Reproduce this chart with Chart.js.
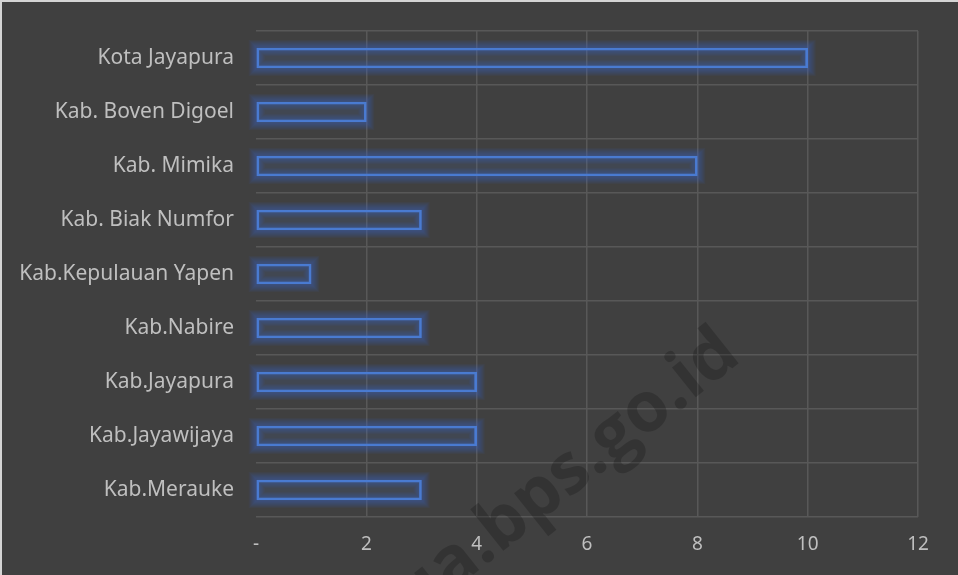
<!DOCTYPE html>
<html>
<head>
<meta charset="utf-8">
<style>
  html, body { margin: 0; padding: 0; background: #404040; }
  #wrap { width: 958px; height: 575px; position: relative; }
</style>
<script src="https://cdn.jsdelivr.net/npm/chart.js@4/dist/chart.umd.min.js"></script>
</head>
<body>
<div id="wrap"><canvas id="chart" width="958" height="575"></canvas></div>
<script>
const categories = [
  'Kota Jayapura',
  'Kab. Boven Digoel',
  'Kab. Mimika',
  'Kab. Biak Numfor',
  'Kab.Kepulauan Yapen',
  'Kab.Nabire',
  'Kab.Jayapura',
  'Kab.Jayawijaya',
  'Kab.Merauke',
];
const values = [10, 2, 8, 3, 1, 3, 4, 4, 3];
const xTicks = [0, 2, 4, 6, 8, 10, 12];

const BG = '#404040';
const GRID = '#585858';
const TEXT = '#bfbfbf';
const BLUE = '#4a7bd2';

// background, frame, watermark and the soft glow round the bars
const backdrop = {
  id: 'backdrop',
  beforeDraw(chart) {
    const { ctx, width, height } = chart;
    ctx.save();
    ctx.fillStyle = BG;
    ctx.fillRect(0, 0, width, height);
    ctx.fillStyle = '#d4d4d4';
    ctx.fillRect(0, 0, width, 2);
    ctx.fillRect(0, 0, 2, height);
    ctx.restore();
  },
  beforeDatasetsDraw(chart) {
    const { ctx } = chart;
    ctx.save();
    ctx.translate(743, 360);
    ctx.rotate(-38.5 * Math.PI / 180);
    ctx.font = 'bold 70px "Open Sans"';
    ctx.textAlign = 'right';
    ctx.textBaseline = 'alphabetic';
    ctx.fillStyle = 'rgba(0,0,0,0.2)';
    ctx.fillText('papua.bps.go.id', 0, 0);
    ctx.restore();

    const meta = chart.getDatasetMeta(0);
    ctx.save();
    meta.data.forEach((bar) => {
      const { x, y, base, height } = bar.getProps(['x', 'y', 'base', 'height'], true);
      const left = Math.min(x, base);
      const w = Math.abs(x - base);
      for (let k = 7; k >= 1; k--) {
        ctx.strokeStyle = 'rgba(60,110,210,0.065)';
        ctx.lineWidth = 2 + k * 2;
        ctx.strokeRect(left, y - height / 2, w, height);
      }
    });
    ctx.restore();
  },
};

new Chart(document.getElementById('chart'), {
  type: 'bar',
  data: {
    labels: categories,
    datasets: [{
      data: values,
      backgroundColor: 'rgba(70,110,190,0.14)',
      borderColor: BLUE,
      borderWidth: 2,
      borderSkipped: false,
      barThickness: 20,
    }],
  },
  options: {
    indexAxis: 'y',
    responsive: false,
    animation: false,
    events: [],
    layout: { padding: { top: 31, right: 40, left: 0, bottom: 0 } },
    plugins: {
      legend: { display: false },
      tooltip: { enabled: false },
    },
    scales: {
      x: {
        min: 0,
        max: 12,
        afterBuildTicks(axis) {
          axis.ticks = xTicks.map((v) => ({ value: v }));
        },
        afterFit(axis) { axis.height = 58; },
        grid: {
          color: (c) => (c.tick && c.tick.value === 0 ? 'rgba(0,0,0,0)' : GRID),
          lineWidth: 1.5,
          drawTicks: false,
        },
        border: { display: false },
        ticks: {
          color: TEXT,
          padding: 16,
          font: { family: '"Noto Sans"', size: 19 },
          callback: (v) => (v === 0 ? '-' : v),
        },
      },
      y: {
        afterFit(axis) {
          axis.width = 256;
          axis.paddingTop = 0;
          axis.paddingBottom = 0;
        },
        grid: { color: GRID, lineWidth: 1.5, drawTicks: false, offset: true },
        border: { display: false },
        ticks: {
          color: TEXT,
          padding: 22,
          font: { family: '"Noto Sans"', size: 21 },
        },
      },
    },
  },
  plugins: [backdrop],
});
</script>
</body>
</html>
